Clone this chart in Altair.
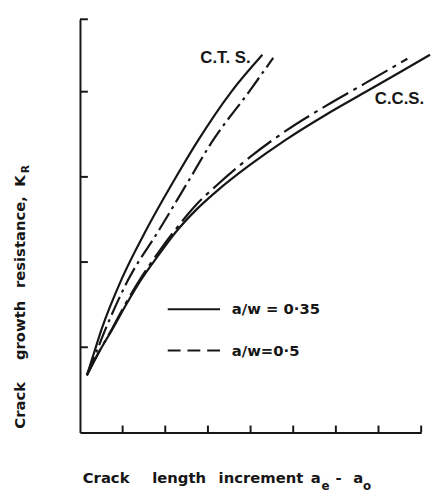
import altair as alt
import pandas as pd

# ---- data (arbitrary units, 8 x-ticks, 4 y-ticks) ----
cts_035_x = [0.162, 0.324, 0.509, 0.971, 1.549, 2.197, 2.751, 3.538, 4.277]
cts_035_y = [0.671, 0.926, 1.215, 1.794, 2.373, 2.951, 3.414, 3.993, 4.433]

cts_05_x = [0.162, 0.370, 0.601, 1.133, 1.850, 2.543, 3.098, 3.954, 4.532]
cts_05_y = [0.671, 0.926, 1.215, 1.794, 2.373, 2.951, 3.414, 3.993, 4.398]

ccs_035_x = [0.162, 0.439, 0.763, 1.087, 1.434, 1.827, 2.243, 2.705, 3.214,
             3.977, 4.832, 5.757, 6.682, 7.491, 8.208]
ccs_035_y = [0.671, 0.938, 1.215, 1.505, 1.794, 2.072, 2.350, 2.604, 2.836,
             3.137, 3.438, 3.727, 3.993, 4.225, 4.433]

ccs_05_x = [0.162, 0.439, 0.763, 1.087, 1.434, 1.827, 2.243, 2.705, 3.214,
            3.977, 4.832, 5.757, 6.682, 7.676]
ccs_05_y = [0.671, 0.938, 1.227, 1.528, 1.817, 2.106, 2.384, 2.662, 2.905,
            3.229, 3.542, 3.831, 4.097, 4.387]

x_ticks = [1, 2, 3, 4, 5, 6, 7, 8]
y_ticks = [1, 2, 3, 4]
x_max = 8
y_max = 4.85

curve_labels = ["C.T. S.", "C.C.S."]
curve_label_x = [2.821, 6.913]
curve_label_y = [4.340, 3.854]

legend_labels = ["a/w = 0·35", "a/w=0·5"]

# ---- styling / layout ----
W, H = 346, 419
INK = "#161616"
TITLE_FONT = "DejaVu Sans"
LABEL_FONT = "Liberation Sans"

xs = alt.Scale(domain=[0, x_max], nice=False, zero=False)
ys = alt.Scale(domain=[0, y_max], nice=False, zero=False)
xaxis = alt.Axis(labels=False, ticks=False, grid=False, title=None,
                 domainColor=INK, domainWidth=2)
yaxis = alt.Axis(labels=False, ticks=False, grid=False, title=None,
                 domainColor=INK, domainWidth=2)


def curve(xv, yv, dash=None):
    df = pd.DataFrame({"x": xv, "y": yv, "i": list(range(len(xv)))})
    kw = dict(color=INK, strokeWidth=2.2, interpolate="monotone")
    if dash:
        kw["strokeDash"] = dash
    return alt.Chart(df).mark_line(**kw).encode(
        x=alt.X("x:Q", scale=xs, axis=xaxis),
        y=alt.Y("y:Q", scale=ys, axis=yaxis),
        order="i:Q",
    )


def txt(s, x, y, size=15, angle=0, align="left", baseline="alphabetic",
        font=TITLE_FONT):
    df = pd.DataFrame({"s": [s]})
    kw = dict(font=font, fontSize=size, fontWeight="bold", color=INK,
              align=align, baseline=baseline)
    if angle:
        kw["angle"] = angle
    return alt.Chart(df).mark_text(**kw).encode(
        text="s:N", x=alt.value(x), y=alt.value(y))


layers = []
layers.append(curve(cts_035_x, cts_035_y))
layers.append(curve(cts_05_x, cts_05_y, [20, 5, 3, 5]))
layers.append(curve(ccs_035_x, ccs_035_y))
layers.append(curve(ccs_05_x, ccs_05_y, [30, 6, 4, 6]))

# inward ticks
layers.append(
    alt.Chart(pd.DataFrame({"t": x_ticks})).mark_rule(color=INK, strokeWidth=2).encode(
        x=alt.X("t:Q", scale=xs, axis=xaxis), y=alt.value(H), y2=alt.value(H - 7))
)
layers.append(
    alt.Chart(pd.DataFrame({"t": y_ticks + [y_max]})).mark_rule(color=INK, strokeWidth=2).encode(
        y=alt.Y("t:Q", scale=ys, axis=yaxis), x=alt.value(0), x2=alt.value(8))
)

# curve labels
layers.append(
    alt.Chart(pd.DataFrame({"s": curve_labels, "x": curve_label_x, "y": curve_label_y}))
    .mark_text(font=LABEL_FONT, fontSize=17, fontWeight="bold", color=INK,
               align="left", baseline="alphabetic")
    .encode(text="s:N", x=alt.X("x:Q", scale=xs, axis=xaxis),
            y=alt.Y("y:Q", scale=ys, axis=yaxis))
)

# legend
layers.append(
    alt.Chart(pd.DataFrame({"k": [0]})).mark_rule(color=INK, strokeWidth=2).encode(
        x=alt.value(89), x2=alt.value(142), y=alt.value(294))
)
layers.append(
    alt.Chart(pd.DataFrame({"k": [0]})).mark_rule(color=INK, strokeWidth=2,
                                                   strokeDash=[13, 7]).encode(
        x=alt.value(89), x2=alt.value(142), y=alt.value(336))
)
layers.append(txt(legend_labels[0], 154, 294, size=15, baseline="middle"))
layers.append(txt(legend_labels[1], 154, 336, size=15, baseline="middle"))

# x title  "Crack length increment a_e - a_o"
layers.append(txt("Crack", 26.5, 470, align="center"))
layers.append(txt("length", 100.5, 470, align="center"))
layers.append(txt("increment", 183.5, 470, align="center"))
layers.append(txt("a", 234, 470))
layers.append(txt("e", 245, 477, size=12))
layers.append(txt("-", 259, 470))
layers.append(txt("a", 277, 470))
layers.append(txt("o", 287, 477, size=12))

# y title  "Crack growth resistance, K_R"
layers.append(txt("Crack", -56, 391.5, angle=270, align="center"))
layers.append(txt("growth", -56, 315.5, angle=270, align="center"))
layers.append(txt("resistance,", -56, 226, angle=270, align="center"))
layers.append(txt("K", -56, 164, angle=270, align="center"))
layers.append(txt("R", -52, 152, size=11, angle=270, align="center"))

chart = alt.layer(*layers).properties(
    width=W, height=H,
    autosize=alt.AutoSizeParams(type="none"),
    padding={"left": 73, "top": 8, "right": 12, "bottom": 60},
).configure_view(strokeWidth=0)

chart.save("out.html", embed_options={"renderer": "svg", "actions": False})
